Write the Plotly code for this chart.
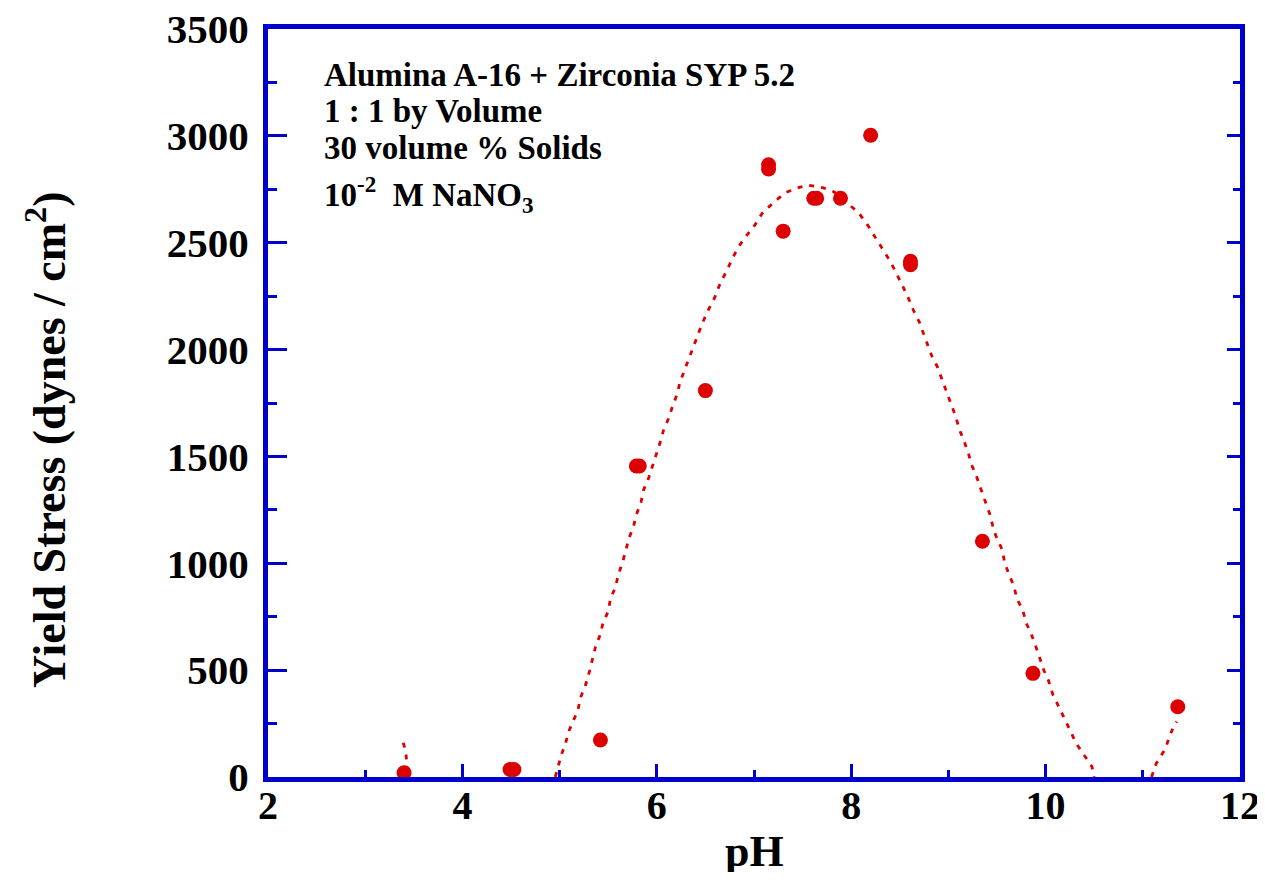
import plotly.graph_objects as go

# measured data points (pH, yield stress)
ph_points = [3.40, 4.49, 4.53, 5.42, 5.79, 5.82, 6.50, 7.15, 7.15, 7.30,
             7.615, 7.645, 7.89, 8.20, 8.61, 8.61, 9.35, 9.87, 11.36]
stress_points = [20, 35, 35, 173, 1455, 1455, 1808, 2845, 2865, 2554,
                 2708, 2708, 2708, 3003, 2397, 2413, 1103, 485, 329]

# dotted fit curve (None = gap where the fit is below 0)
fit_ph = [3.39, 3.405, 3.42, 3.43, 3.432, None,
          4.955, 5.018, 5.062, 5.097, 5.138, 5.189, 5.216, 5.264, 5.309, 5.339,
          5.370, 5.419, 5.447, 5.498, 5.525, 5.576, 5.604, 5.648, 5.683, 5.714,
          5.761, 5.789, 5.837, 5.864, 5.916, 5.957, 5.992, 6.036, 6.070, 6.118,
          6.163, 6.211, 6.239, 6.286, 6.331, 6.40, 6.468, 6.533, 6.595, 6.643,
          6.705, 6.763, 6.825, 6.903, 6.993, 7.085, 7.198, 7.322, 7.459, 7.551,
          7.706, 7.826, 7.95, 8.080, 8.173, 8.251, 8.325, 8.405, 8.467, 8.531,
          8.575, 8.639, 8.701, 8.745, 8.793, 8.837, 8.886, 8.930, 8.978, 9.023,
          9.071, 9.115, 9.164, 9.208, 9.239, 9.287, 9.331, 9.380, 9.426, 9.457,
          9.486, 9.552, 9.578, 9.623, 9.671, 9.706, 9.767, 9.798, 9.843, 9.891,
          9.938, 9.984, 10.028, 10.076, 10.136, 10.201, 10.252, 10.312, 10.400,
          10.477, 10.50, None,
          11.09, 11.139, 11.232, 11.276, 11.324, 11.35]
fit_stress = [160, 140, 105, 55, 0, None,
              0, 103, 160, 217, 259, 314, 373, 426, 497, 554,
              610, 668, 722, 773, 836, 890, 947, 1005, 1062, 1117,
              1174, 1226, 1285, 1343, 1399, 1455, 1511, 1568, 1624, 1674,
              1736, 1794, 1848, 1905, 1964, 2045, 2123, 2188, 2243, 2299,
              2354, 2411, 2469, 2522, 2572, 2638, 2687, 2734, 2758, 2770,
              2758, 2737, 2690, 2638, 2580, 2524, 2468, 2410, 2355, 2298,
              2255, 2185, 2129, 2073, 2017, 1961, 1920, 1862, 1805, 1750,
              1692, 1624, 1568, 1511, 1460, 1410, 1351, 1284, 1230, 1174,
              1131, 1065, 1005, 948, 897, 834, 778, 722, 680, 622,
              554, 497, 454, 384, 329, 271, 218, 159, 103,
              48, 0, None,
              0, 64, 132, 192, 243, 259]

x_ticks = [2, 4, 6, 8, 10, 12]
y_ticks = [0, 500, 1000, 1500, 2000, 2500, 3000, 3500]

annotation_lines = [
    "Alumina A-16 + Zirconia SYP 5.2",
    "1 : 1 by Volume",
    "30 volume % Solids",
    "10<sup>-2</sup>  M NaNO<sub>3</sub>",
]

RED = "#dd0000"
BLUE = "#0000cc"
FONT = "Liberation Serif"

fig = go.Figure()
fig.add_trace(go.Scatter(
    x=fit_ph, y=fit_stress, mode="lines", connectgaps=False,
    line=dict(color=RED, width=2.8, dash="5px,7px"), hoverinfo="skip",
    showlegend=False))
fig.add_trace(go.Scatter(
    x=ph_points, y=stress_points, mode="markers",
    marker=dict(color=RED, size=15, line=dict(width=0)),
    showlegend=False))
# invisible trace to anchor the right-hand tick axis
fig.add_trace(go.Scatter(x=[None], y=[None], yaxis="y2", showlegend=False,
                         hoverinfo="skip"))

# page body has an 8px margin: figure sits at (8, 8)
OFF = 8
W, H = 1265 - 2 * OFF, 880 - 2 * OFF
ML, MT = 268 - OFF, 29 - OFF
MR = W - (1240 - OFF)
MB = H - (777 - OFF)

fig.update_layout(
    width=W, height=H,
    margin=dict(l=ML, r=MR, t=MT, b=MB, pad=0, autoexpand=False),
    paper_bgcolor="white", plot_bgcolor="white",
    font=dict(family=FONT, color="black"),
    xaxis=dict(
        range=[2, 12], tickvals=x_ticks, ticktext=[str(v) for v in x_ticks],
        showgrid=False, zeroline=False, automargin=False,
        showline=True, linecolor=BLUE, linewidth=5, mirror=True,
        ticks="inside", ticklen=13, tickwidth=2.5, tickcolor=BLUE,
        minor=dict(dtick=1, tick0=2, ticks="inside", ticklen=7,
                   tickwidth=2.5, tickcolor=BLUE, showgrid=False),
        tickfont=dict(family=FONT, size=40, weight="bold", color="black"),
        ticklabelstandoff=-11, ticklabeloverflow="allow",
    ),
    yaxis=dict(
        range=[0, 3500], tickvals=y_ticks, ticktext=[str(v) for v in y_ticks],
        showgrid=False, zeroline=False, automargin=False,
        showline=True, linecolor=BLUE, linewidth=5, mirror=True,
        ticks="inside", ticklen=19, tickwidth=2.5, tickcolor=BLUE,
        minor=dict(dtick=250, ticks="inside", ticklen=9,
                   tickwidth=2.5, tickcolor=BLUE, showgrid=False),
        tickfont=dict(family=FONT, size=41, weight="bold", color="black"),
        ticklabelstandoff=6, ticklabeloverflow="allow",
    ),
    yaxis2=dict(
        range=[0, 3500], overlaying="y", side="right", tickvals=y_ticks,
        showticklabels=False, showgrid=False, zeroline=False,
        showline=False, automargin=False,
        ticks="inside", ticklen=13, tickwidth=2.5, tickcolor=BLUE,
        minor=dict(dtick=250, ticks="inside", ticklen=7,
                   tickwidth=2.5, tickcolor=BLUE, showgrid=False),
    ),
)

plot_h = H - MT - MB
plot_w = W - ML - MR


def py_to_paper(py):
    # py: pixel y in the browser window
    return (H - MB - (py - OFF)) / plot_h


def px_to_paper(px):
    return (px - OFF - ML) / plot_w


annotations = []
line_centers = [75.5, 111, 147.5, 194]
for txt, cy in zip(annotation_lines, line_centers):
    annotations.append(dict(
        text=txt, xref="paper", yref="paper",
        x=px_to_paper(322), y=py_to_paper(cy),
        xanchor="left", yanchor="middle", showarrow=False,
        font=dict(family=FONT, size=33, weight="bold", color="black")))

annotations.append(dict(
    text="pH", xref="paper", yref="paper",
    x=0.5, y=py_to_paper(851), xanchor="center", yanchor="middle",
    showarrow=False,
    font=dict(family=FONT, size=44, weight="bold", color="black")))
annotations.append(dict(
    text="Yield Stress (dynes / cm<sup>2</sup>)", xref="paper", yref="paper",
    x=px_to_paper(46), y=py_to_paper(440), xanchor="center", yanchor="middle",
    textangle=-90, showarrow=False,
    font=dict(family=FONT, size=46, weight="bold", color="black")))

fig.update_layout(annotations=annotations)

fig.write_html("out.html")
